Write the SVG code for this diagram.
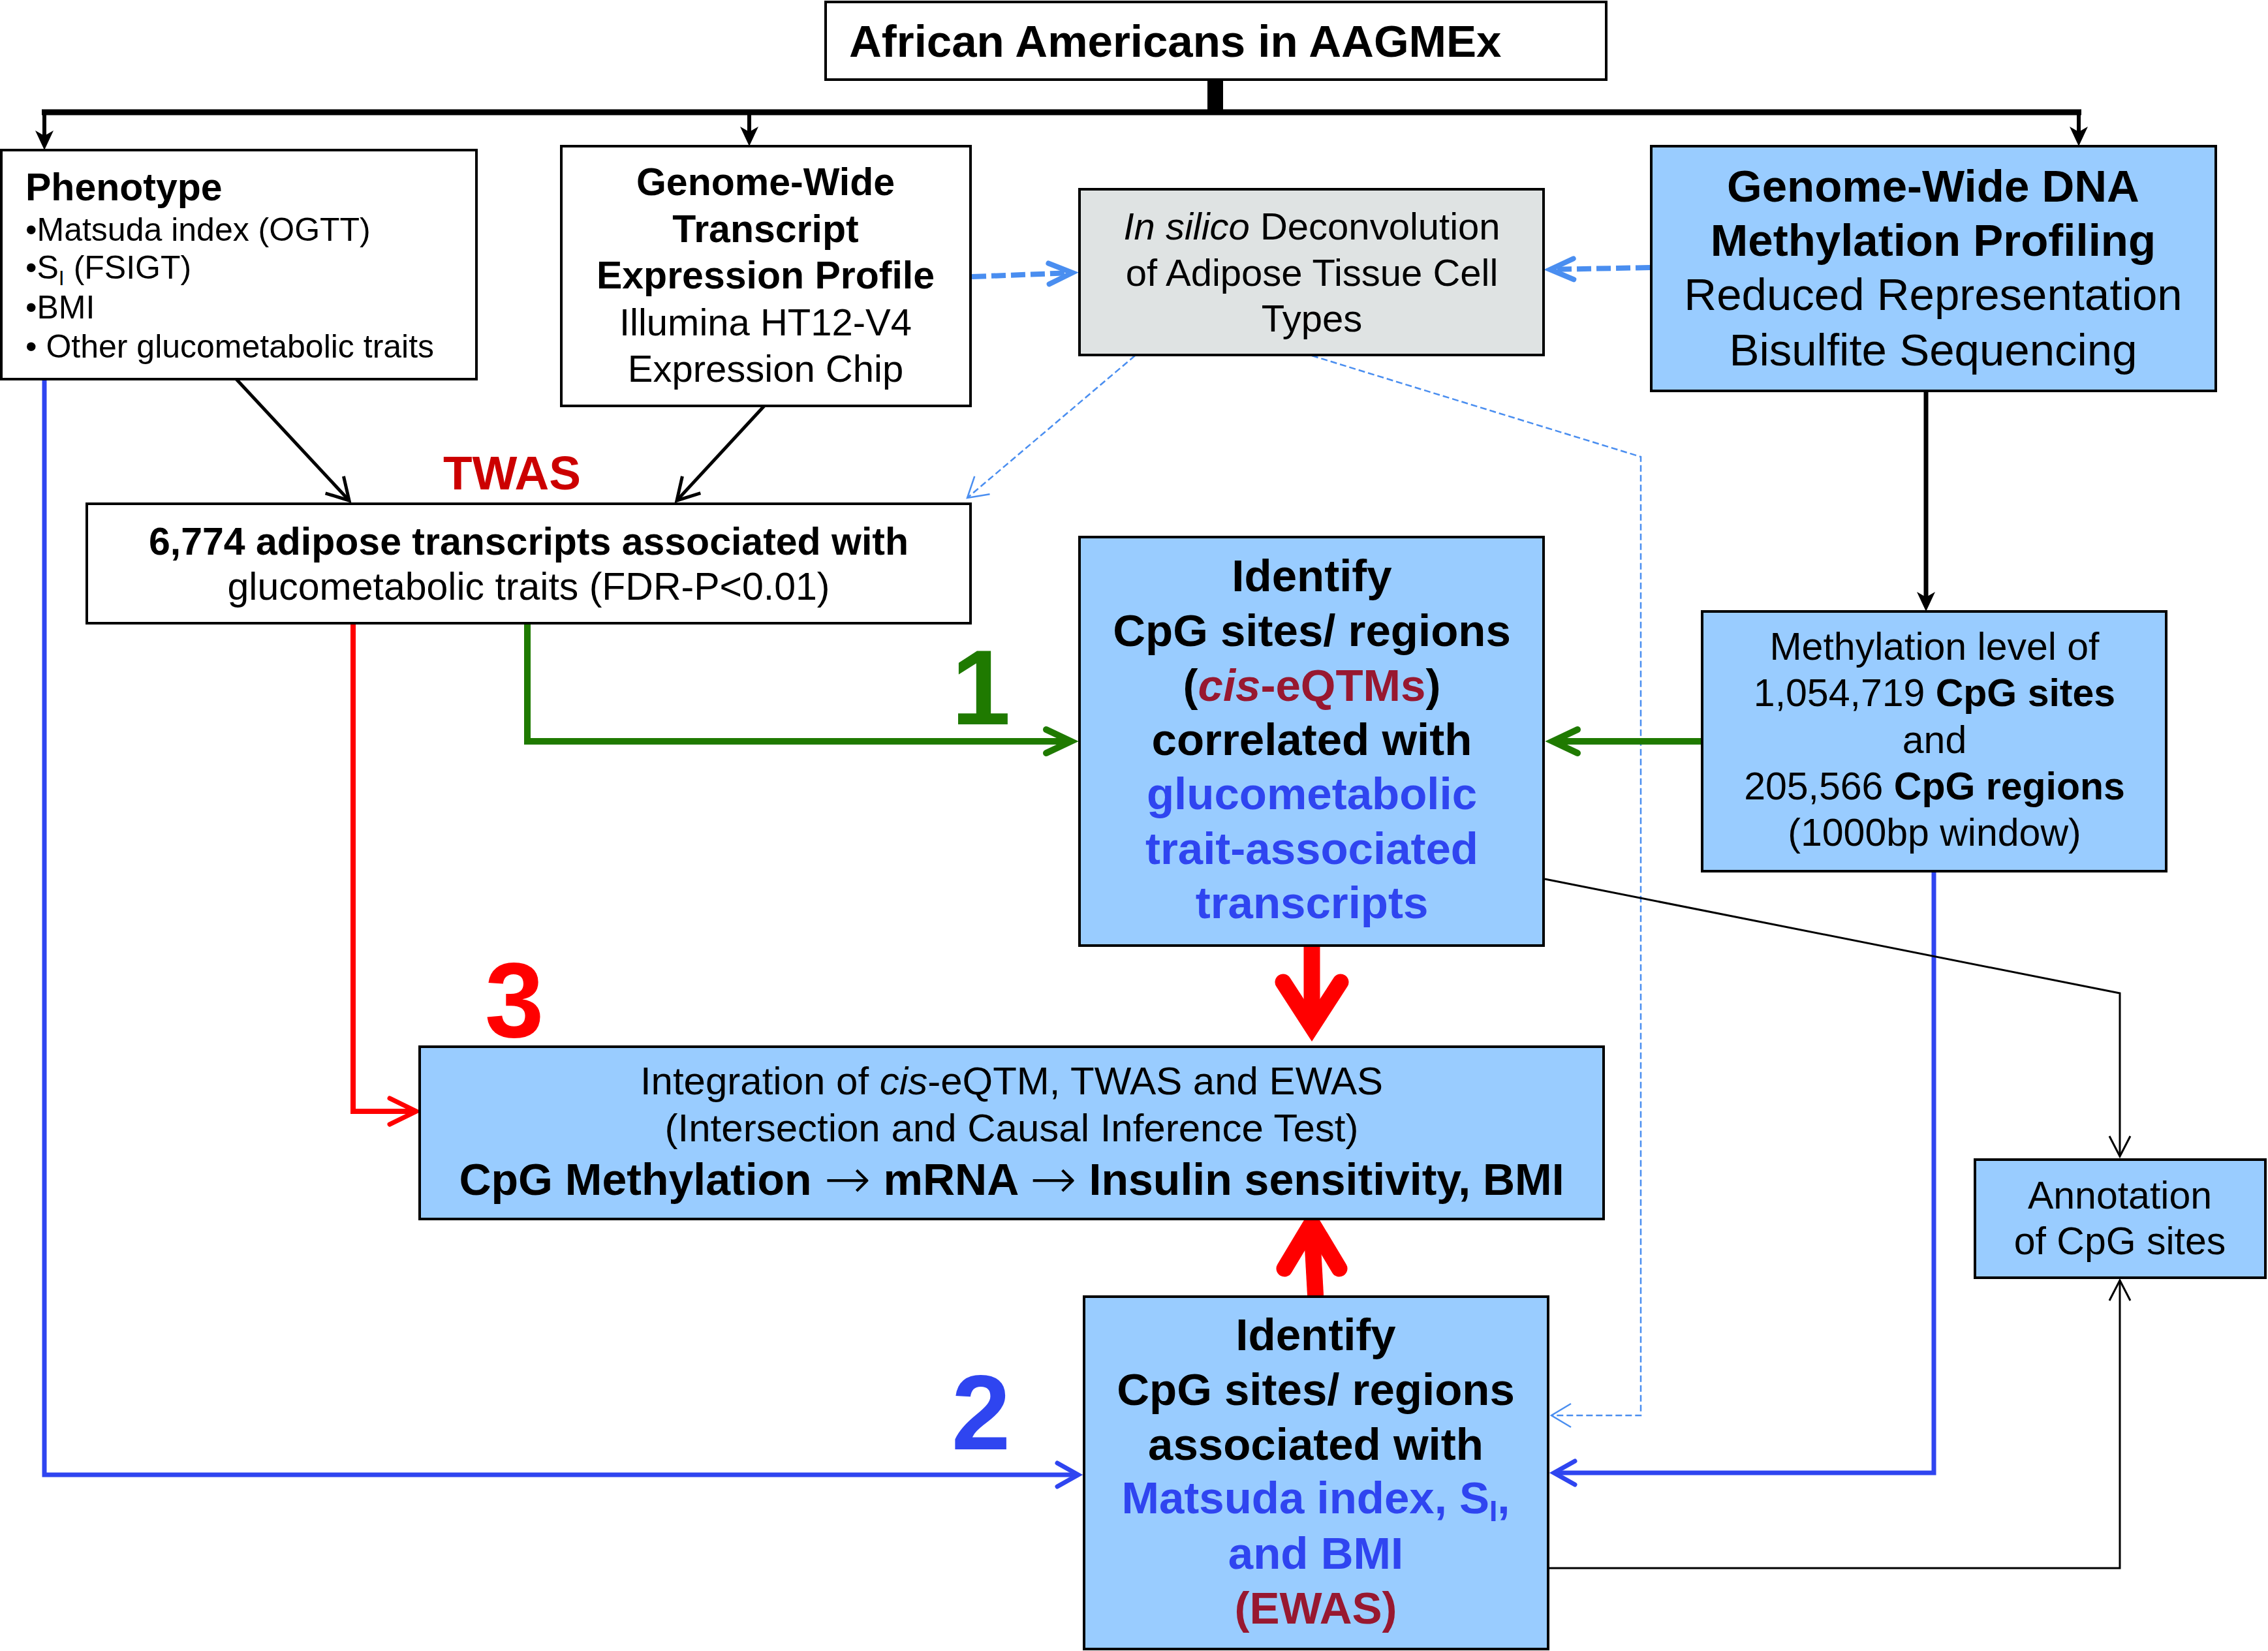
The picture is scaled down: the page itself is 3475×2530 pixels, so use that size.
<svg xmlns="http://www.w3.org/2000/svg" width="3475" height="2530" viewBox="0 0 3475 2530">
<style>
text{font-family:"Liberation Sans",Arial,Helvetica,sans-serif;fill:#000}
.bd{font-weight:bold}
.c{text-anchor:middle}
.it{font-style:italic}
.arr{font-family:"DejaVu Sans",sans-serif;font-weight:200;font-size:86px}
.box{stroke:#000;stroke-width:4}
.w{fill:#fff}.lb{fill:#99ccff}.gr{fill:#dfe3e3}
.f50{font-size:50px}.f58{font-size:58px}.f59{font-size:59px}.f60{font-size:60px}.f68{font-size:68px}.f69{font-size:69px}
.blue{fill:#2f45f0}.dred{fill:#981830}
.num{font-size:163px;font-weight:bold}
.ln{fill:none;stroke-linejoin:miter}
.tree{stroke:#000;stroke-width:6}
.blk{stroke:#000;stroke-width:5}
.thin{stroke:#000;stroke-width:3}
.dsh{stroke:#4a8ef0;stroke-width:8;stroke-dasharray:22 8}
.dsht{stroke:#4a8ef0;stroke-width:2.5;stroke-dasharray:10 5}
.grn{stroke:#1f7a00;stroke-width:10}
.blu{stroke:#2f45f0;stroke-width:7}
.rd{stroke:#ff0000;stroke-width:8}
.big{stroke:#ff0000;stroke-width:25;fill:none}
</style>
<defs>
<marker id="mTree" markerUnits="userSpaceOnUse" viewBox="-40 -20 44 40" markerWidth="44" markerHeight="40" refX="-10" refY="0" orient="auto" overflow="visible"><path d="M0,0 L-30,-14 L-22,0 L-30,14 Z" fill="#000"/></marker>
<marker id="mBlk" markerUnits="userSpaceOnUse" viewBox="-50 -25 55 50" markerWidth="55" markerHeight="50" refX="0" refY="0" orient="auto" overflow="visible"><path d="M-33,-19 L0,0 L-33,19" fill="none" stroke="#000" stroke-width="5"/></marker>
<marker id="mThin" markerUnits="userSpaceOnUse" viewBox="-50 -25 55 50" markerWidth="55" markerHeight="50" refX="0" refY="0" orient="auto" overflow="visible"><path d="M-31,-16 L0,0 L-31,16" fill="none" stroke="#000" stroke-width="3"/></marker>
<marker id="mDsh" markerUnits="userSpaceOnUse" viewBox="-50 -25 55 50" markerWidth="55" markerHeight="50" refX="0" refY="0" orient="auto" overflow="visible"><path d="M-36,-16 L0,0 L-36,16" fill="none" stroke="#4a8ef0" stroke-width="8" stroke-linecap="round"/></marker>
<marker id="mDshT" markerUnits="userSpaceOnUse" viewBox="-50 -25 55 50" markerWidth="55" markerHeight="50" refX="0" refY="0" orient="auto" overflow="visible"><path d="M-30,-18 L0,0 L-30,18" fill="none" stroke="#4a8ef0" stroke-width="2.5"/></marker>
<marker id="mGrn" markerUnits="userSpaceOnUse" viewBox="-50 -25 55 50" markerWidth="55" markerHeight="50" refX="0" refY="0" orient="auto" overflow="visible"><path d="M-38,-18 L0,0 L-38,18" fill="none" stroke="#1f7a00" stroke-width="10" stroke-linecap="round"/></marker>
<marker id="mBlu" markerUnits="userSpaceOnUse" viewBox="-50 -25 55 50" markerWidth="55" markerHeight="50" refX="0" refY="0" orient="auto" overflow="visible"><path d="M-32,-18 L0,0 L-32,18" fill="none" stroke="#2f45f0" stroke-width="7" stroke-linecap="round"/></marker>
<marker id="mRd" markerUnits="userSpaceOnUse" viewBox="-50 -25 55 50" markerWidth="55" markerHeight="50" refX="0" refY="0" orient="auto" overflow="visible"><path d="M-41,-20 L0,0 L-41,20" fill="none" stroke="#ff0000" stroke-width="7" stroke-linecap="round"/></marker>
</defs>

<g id="connectors">
<path d="M1862,122 V172" stroke="#000" stroke-width="24" fill="none"/>
<path d="M64,172 H3189" stroke="#000" stroke-width="9" fill="none"/>
<path class="ln tree" d="M68,172 V220" marker-end="url(#mTree)"/>
<path class="ln tree" d="M1148,172 V214" marker-end="url(#mTree)"/>
<path class="ln tree" d="M3185,172 V214" marker-end="url(#mTree)"/>
<path class="ln" d="M2951,599 V927" stroke="#000" stroke-width="7" marker-end="url(#mTree)"/>
<path class="ln blk" d="M362,581 L535,767" marker-end="url(#mBlk)"/>
<path class="ln blk" d="M1171,622 L1037,767" marker-end="url(#mBlk)"/>
<path class="ln dsh" d="M1489,424 L1643,418" marker-end="url(#mDsh)"/>
<path class="ln dsh" d="M2528,410 L2375,413" marker-end="url(#mDsh)"/>
<path class="ln dsht" d="M1739,545 L1482,763" marker-end="url(#mDshT)"/>
<path class="ln dsht" d="M2010,545 L2514,700 V2169 H2377" marker-end="url(#mDshT)"/>
<path class="ln grn" d="M808,955 V1136 H1641" marker-end="url(#mGrn)"/>
<path class="ln grn" d="M2608,1136 H2379" marker-end="url(#mGrn)"/>
<path class="ln rd" d="M541,955 V1703 H638" marker-end="url(#mRd)"/>
<path class="ln blu" d="M68,581 V2260 H1652" marker-end="url(#mBlu)"/>
<path class="ln blu" d="M2963,1336 V2257 H2381" marker-end="url(#mBlu)"/>
<path class="ln thin" d="M2367,1347 L3248,1522 V1772" marker-end="url(#mThin)"/>
<path class="ln thin" d="M2366,2403 H3248 V1962" marker-end="url(#mThin)"/>
<path class="big" d="M2010,1449 V1560"/>
<path class="big" d="M1966,1505 L2010,1573 L2054,1505" stroke-linecap="round"/>
<path class="big" d="M2016,1993 L2010,1885"/>
<path class="big" d="M1968,1944 L2010,1874 L2052,1944" stroke-linecap="round"/>
</g>

<g id="title">
<rect class="box w" x="1265" y="3" width="1196" height="119"/>
<text class="bd f69" x="1301" y="87">African Americans in AAGMEx</text>
</g>

<g id="phenotype">
<rect class="box w" x="2" y="230" width="728" height="351"/>
<text class="bd f59" x="39" y="307">Phenotype</text>
<text class="f50" x="39" y="369">•Matsuda index (OGTT)</text>
<text class="f50" x="39" y="427">•S<tspan font-size="32" dy="10">I</tspan><tspan dy="-10"> (FSIGT)</tspan></text>
<text class="f50" x="39" y="488">•BMI</text>
<text class="f50" x="39" y="548">• Other glucometabolic traits</text>
</g>

<g id="transcript">
<rect class="box w" x="860" y="224" width="627" height="398"/>
<text class="bd f59 c" x="1173" y="299">Genome-Wide</text>
<text class="bd f59 c" x="1173" y="371">Transcript</text>
<text class="bd f59 c" x="1173" y="442">Expression Profile</text>
<text class="f58 c" x="1173" y="514">Illumina HT12-V4</text>
<text class="f58 c" x="1173" y="585">Expression Chip</text>
</g>

<g id="deconvolution">
<rect class="box gr" x="1654" y="290" width="711" height="254"/>
<text class="f58 c" x="2010" y="367"><tspan class="it">In silico</tspan> Deconvolution</text>
<text class="f58 c" x="2010" y="438">of Adipose Tissue Cell</text>
<text class="f58 c" x="2010" y="508">Types</text>
</g>

<g id="methylation-profiling">
<rect class="box lb" x="2530" y="224" width="865" height="375"/>
<text class="bd f69 c" x="2962" y="309">Genome-Wide DNA</text>
<text class="bd f69 c" x="2962" y="392">Methylation Profiling</text>
<text class="f69 c" x="2962" y="475">Reduced Representation</text>
<text class="f69 c" x="2962" y="560">Bisulfite Sequencing</text>
</g>

<g id="twas-transcripts">
<rect class="box w" x="133" y="772" width="1354" height="183"/>
<text class="bd f59 c" x="810" y="850">6,774 adipose transcripts associated with</text>
<text class="f59 c" x="810" y="919">glucometabolic traits (FDR-P&lt;0.01)</text>
<text class="bd" x="679" y="750" font-size="73" style="fill:#cc0000">TWAS</text>
</g>

<g id="identify-eqtm">
<rect class="box lb" x="1654" y="823" width="711" height="626"/>
<text class="bd f69 c" x="2010" y="906">Identify</text>
<text class="bd f69 c" x="2010" y="990">CpG sites/ regions</text>
<text class="bd f69 c" x="2010" y="1074">(<tspan class="it dred">cis</tspan><tspan class="dred">-eQTMs</tspan>)</text>
<text class="bd f69 c" x="2010" y="1157">correlated with</text>
<text class="bd f69 c blue" x="2010" y="1240">glucometabolic</text>
<text class="bd f69 c blue" x="2010" y="1324">trait-associated</text>
<text class="bd f69 c blue" x="2010" y="1407">transcripts</text>
</g>

<g id="methylation-level">
<rect class="box lb" x="2608" y="937" width="711" height="398"/>
<text class="f59 c" x="2964" y="1011">Methylation level of</text>
<text class="f59 c" x="2964" y="1082">1,054,719 <tspan class="bd">CpG sites</tspan></text>
<text class="f59 c" x="2964" y="1154">and</text>
<text class="f59 c" x="2964" y="1225">205,566 <tspan class="bd">CpG regions</tspan></text>
<text class="f59 c" x="2964" y="1296">(1000bp window)</text>
</g>

<g id="integration">
<rect class="box lb" x="643" y="1604" width="1814" height="264"/>
<text class="f60 c" x="1550" y="1677">Integration of <tspan class="it">cis</tspan>-eQTM, TWAS and EWAS</text>
<text class="f60 c" x="1550" y="1749">(Intersection and Causal Inference Test)</text>
<text class="bd f68 c" x="1550" y="1831">CpG Methylation <tspan class="arr" dy="5">→</tspan><tspan dy="-5"> mRNA </tspan><tspan class="arr" dy="5">→</tspan><tspan dy="-5"> Insulin sensitivity, BMI</tspan></text>
</g>

<g id="annotation">
<rect class="box lb" x="3026" y="1777" width="445" height="181"/>
<text class="f59 c" x="3248" y="1852">Annotation</text>
<text class="f59 c" x="3248" y="1922">of CpG sites</text>
</g>

<g id="identify-ewas">
<rect class="box lb" x="1661" y="1987" width="711" height="540"/>
<text class="bd f69 c" x="2016" y="2069">Identify</text>
<text class="bd f69 c" x="2016" y="2153">CpG sites/ regions</text>
<text class="bd f69 c" x="2016" y="2237">associated with</text>
<text class="bd f69 c blue" x="2016" y="2319">Matsuda index, S<tspan font-size="44" dy="12">I</tspan><tspan dy="-12">,</tspan></text>
<text class="bd f69 c blue" x="2016" y="2404">and BMI</text>
<text class="bd f69 c dred" x="2016" y="2488">(EWAS)</text>
</g>

<g id="step-labels">
<text class="num c" x="1503" y="1110" style="fill:#1f7a00">1</text>
<text class="num c" x="1503" y="2221" style="fill:#2f45f0">2</text>
<text class="num c" x="788" y="1589" style="fill:#ff0000">3</text>
</g>
</svg>
